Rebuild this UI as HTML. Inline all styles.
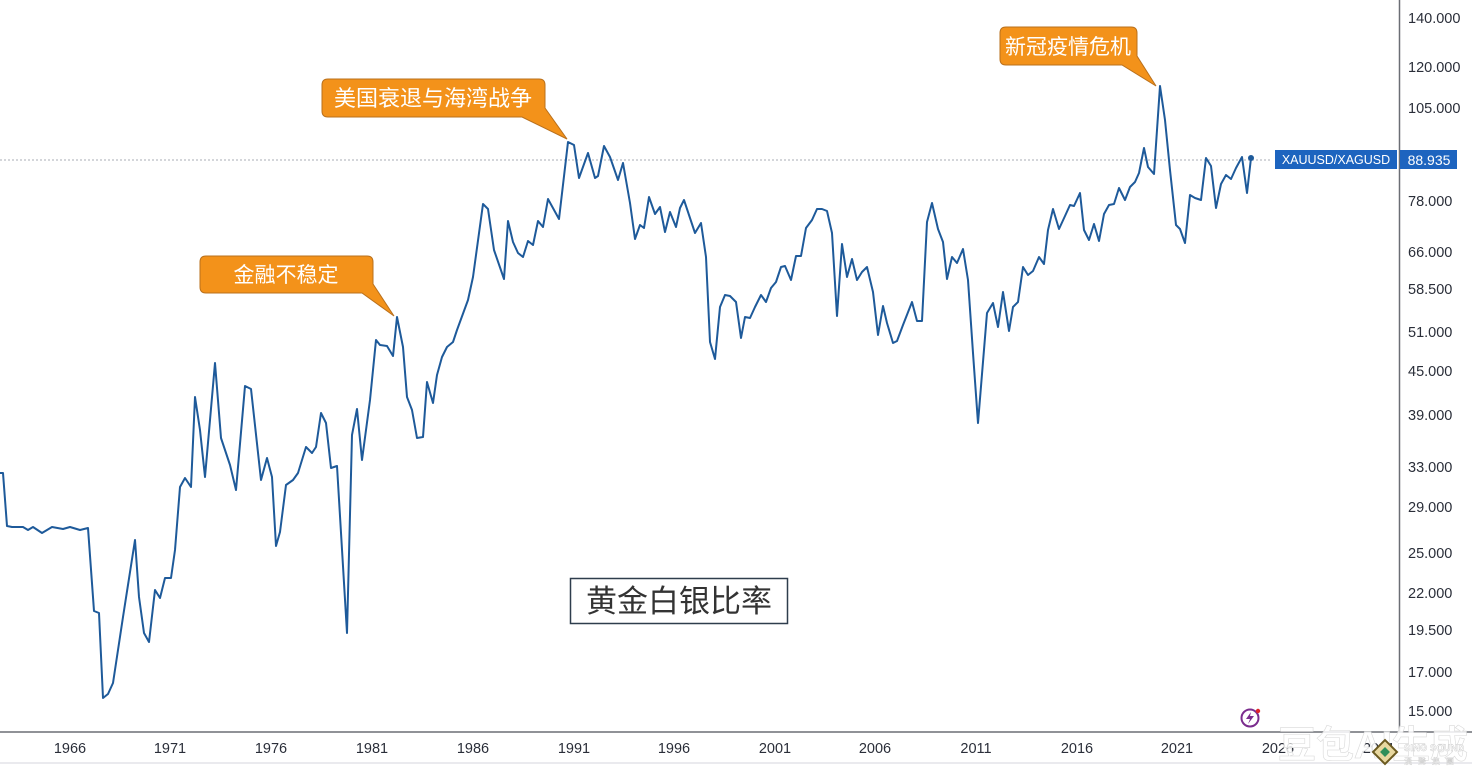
<!DOCTYPE html>
<html>
<head>
<meta charset="utf-8">
<style>
  html,body{margin:0;padding:0;background:#ffffff;}
  body{width:1472px;height:774px;overflow:hidden;position:relative;}
  svg{position:absolute;left:0;top:0;}
  .ax{font-family:"Liberation Sans","Noto Sans CJK SC",sans-serif;font-size:14.5px;fill:#2a2e39;}
  .cn{font-family:"Liberation Sans","Noto Sans CJK SC",sans-serif;}
</style>
</head>
<body>
<svg width="1472" height="774" viewBox="0 0 1472 774" xmlns="http://www.w3.org/2000/svg">
  <rect x="0" y="0" width="1472" height="774" fill="#ffffff"/>

  <!-- last price dotted line -->
  <line x1="0" y1="160" x2="1272" y2="160" stroke="#a8adb6" stroke-width="1" stroke-dasharray="2,2"/>

  <!-- axes -->
  <line x1="1399.5" y1="0" x2="1399.5" y2="732" stroke="#6b6e75" stroke-width="1.5"/>
  <line x1="0" y1="732" x2="1472" y2="732" stroke="#6b6e75" stroke-width="1.5"/>
  <line x1="0" y1="763" x2="1472" y2="763" stroke="#e3e4e8" stroke-width="1.5"/>

  <!-- right axis labels -->
  <g class="ax">
    <text x="1408" y="23">140.000</text>
    <text x="1408" y="72">120.000</text>
    <text x="1408" y="113">105.000</text>
    <text x="1408" y="206">78.000</text>
    <text x="1408" y="257">66.000</text>
    <text x="1408" y="294">58.500</text>
    <text x="1408" y="337">51.000</text>
    <text x="1408" y="376">45.000</text>
    <text x="1408" y="420">39.000</text>
    <text x="1408" y="472">33.000</text>
    <text x="1408" y="512">29.000</text>
    <text x="1408" y="558">25.000</text>
    <text x="1408" y="598">22.000</text>
    <text x="1408" y="635">19.500</text>
    <text x="1408" y="677">17.000</text>
    <text x="1408" y="716">15.000</text>
  </g>

  <!-- bottom axis labels -->
  <g class="ax" text-anchor="middle">
    <text x="70" y="753">1966</text>
    <text x="170" y="753">1971</text>
    <text x="271" y="753">1976</text>
    <text x="372" y="753">1981</text>
    <text x="473" y="753">1986</text>
    <text x="574" y="753">1991</text>
    <text x="674" y="753">1996</text>
    <text x="775" y="753">2001</text>
    <text x="875" y="753">2006</text>
    <text x="976" y="753">2011</text>
    <text x="1077" y="753">2016</text>
    <text x="1177" y="753">2021</text>
    <text x="1278" y="753">2026</text>
    <text x="1379" y="753">2031</text>
  </g>

  <!-- series -->
  <polyline fill="none" stroke="#1e5a9a" stroke-width="2" stroke-linejoin="round" stroke-linecap="round"
    points="0,473 3,473 7,526 12,527 23,527 28,530 33,527 42,533 52,527 63,529 70,527 80,530 88,528 94,611 99,613 103,698 108,694 113,683 123,617 135,540 139,597 144,633 149,642 155,590 160,598 165,578 171,578 175,550 180,487 185,478 191,487 195,397 200,430 205,477 215,363 221,438 230,465 236,490 245,386 251,389 261,480 267,458 272,477 276,546 280,532 286,485 293,480 298,473 306,447 312,453 316,447 321,413 326,423 331,468 337,466 347,633 352,435 357,409 362,460 370,400 376,340 380,345 387,346 393,356 397,317 403,347 407,397 412,410 417,438 423,437 427,382 433,403 437,375 442,357 447,347 453,342 457,330 468,300 473,277 483,204 488,209 494,250 504,279 508,221 513,242 518,253 523,257 528,241 533,245 538,221 543,227 548,199 559,219 568,142 574,145 579,178 588,153 595,178 598,176 604,146 610,157 618,180 623,163 630,203 635,239 640,225 644,228 649,197 655,214 660,207 665,232 670,212 676,227 680,208 684,200 690,218 695,233 701,223 706,257 710,342 715,359 720,307 725,295 730,296 736,302 741,338 745,317 750,318 755,307 761,295 766,302 771,288 776,282 781,267 785,266 791,280 796,256 801,256 806,228 812,220 817,209 822,209 827,211 832,233 837,316 842,244 847,277 852,259 857,280 862,272 867,267 873,292 878,335 883,306 887,323 893,343 897,341 903,325 912,302 917,321 922,321 927,222 932,203 938,229 943,242 947,279 952,257 957,263 963,249 968,280 973,353 978,423 987,313 993,303 998,327 1003,292 1009,331 1013,307 1018,302 1023,267 1028,275 1033,271 1039,257 1044,264 1048,230 1053,209 1059,229 1065,216 1070,205 1074,206 1080,193 1084,230 1089,240 1094,224 1099,241 1104,214 1109,205 1114,204 1119,188 1125,200 1130,187 1135,182 1139,173 1144,148 1148,167 1154,174 1160,86 1165,120 1170,170 1176,225 1180,229 1185,243 1190,195 1195,198 1201,200 1206,158 1211,166 1216,208 1221,184 1226,175 1231,179 1236,168 1242,157 1247,193 1251,158"/>
  <circle cx="1251" cy="158" r="3" fill="#1e5a9a"/>

  <!-- price labels -->
  <rect x="1275" y="150" width="122" height="19" fill="#1d64bf"/>
  <text x="1336" y="164" text-anchor="middle" font-family="Liberation Sans, sans-serif" font-size="12.5" fill="#ffffff">XAUUSD/XAGUSD</text>
  <rect x="1400" y="150" width="57" height="19" fill="#1d64bf"/>
  <text x="1429" y="165" text-anchor="middle" font-family="Liberation Sans, sans-serif" font-size="14" fill="#ffffff">88.935</text>

  <!-- callout 1 -->
  <path d="M206,256 H367 Q373,256 373,262 V284 L394,316 L362,293 H206 Q200,293 200,287 V262 Q200,256 206,256 Z"
        fill="#f3921a" stroke="#b9701c" stroke-width="1"/>
  <text x="286" y="282" text-anchor="middle" class="cn" font-size="21" fill="#ffffff">金融不稳定</text>

  <!-- callout 2 -->
  <path d="M328,79 H539 Q545,79 545,85 V108 L567,139 L522,117 H328 Q322,117 322,111 V85 Q322,79 328,79 Z"
        fill="#f3921a" stroke="#b9701c" stroke-width="1"/>
  <text x="433" y="106" text-anchor="middle" class="cn" font-size="22" fill="#ffffff">美国衰退与海湾战争</text>

  <!-- callout 3 -->
  <path d="M1006,27 H1131 Q1137,27 1137,33 V56 L1156,86 L1122,65 H1006 Q1000,65 1000,59 V33 Q1000,27 1006,27 Z"
        fill="#f3921a" stroke="#b9701c" stroke-width="1"/>
  <text x="1068" y="54" text-anchor="middle" class="cn" font-size="21" fill="#ffffff">新冠疫情危机</text>

  <!-- title box -->
  <rect x="570.5" y="578.5" width="217" height="45" fill="#ffffff" stroke="#2e3d4d" stroke-width="1.5"/>
  <text x="679" y="612" text-anchor="middle" class="cn" font-size="31" fill="#333333">黄金白银比率</text>

  <!-- small purple icon -->
  <circle cx="1250" cy="718" r="8.5" fill="none" stroke="#7b2d8e" stroke-width="2"/>
  <path d="M1251,712 L1246,719 L1250,719 L1248,724 L1254,716 L1250,716 Z" fill="#7b2d8e"/>
  <circle cx="1258" cy="711" r="2.2" fill="#e0262b"/>

  <!-- watermark -->
  <text x="1278" y="758" class="cn" font-size="38" font-weight="bold" fill="#ffffff" fill-opacity="0.85" stroke="#d9d9d9" stroke-width="0.6">豆包AI生成</text>
  <g transform="translate(1385,752)">
    <rect x="-8.5" y="-8.5" width="17" height="17" transform="rotate(45)" fill="#e8d8a0" stroke="#6b5a20" stroke-width="2"/>
    <rect x="-3.5" y="-3.5" width="7" height="7" transform="rotate(45)" fill="#2f8f5a"/>
  </g>
  <text x="1404" y="751" font-family="Liberation Sans, sans-serif" font-size="9.5" font-weight="bold" fill="#ffffff" stroke="#c9c9c9" stroke-width="0.4">SINO SOUND</text>
  <text x="1404" y="764" class="cn" font-size="8" fill="#ffffff" stroke="#c9c9c9" stroke-width="0.3" letter-spacing="6">漢聲集團</text>
</svg>
</body>
</html>
